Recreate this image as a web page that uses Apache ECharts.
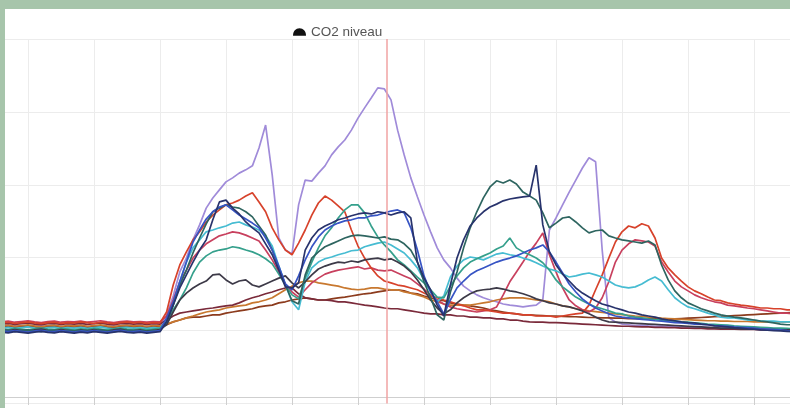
<!DOCTYPE html>
<html><head><meta charset="utf-8">
<script src="https://cdn.jsdelivr.net/npm/echarts/dist/echarts.min.js"></script>
<style>
html,body{margin:0;padding:0;background:#a7c5ab;width:790px;height:408px;overflow:hidden}
#wrap{position:absolute;left:5px;top:9px;width:785px;height:399px;background:#fff;overflow:hidden;filter:blur(0.5px)}
#chart{position:absolute;left:-43.3px;top:0;width:858.4px;height:399px}
</style></head>
<body><div id="wrap"><div id="chart"></div></div>
<script>
// sample times (hours), step 0.1 from 0.6 to 12.6
const times = Array.from({length:121},(_,i)=>Math.round((0.6+i*0.1)*10)/10);
const seriesNames = ['CO2 niveau'];
const markerTime = 6.44;

const lavender = [412,410,413,411,409,412,414,411,410,412,409,411,413,410,412,409,411,413,410,412,411,409,412,410,411,
443,495,561,599,649,690,736,764,786,808,819,832,841,852,901,964,827,654,621,610,745,813,810,832,852,882,904,923,950,983,1011,1038,1066,1063,1033,950,882,819,767,717,671,627,594,572,544,522,509,498,490,484,479,473,470,468,465,468,470,484,676,709,745,780,813,846,874,863,621,435,424,418,
416,414,415,413,412,413,411,410,411,409,410,408,409,407,408,407,406,407,405,406,405,404,405,404,403,404];
const red = [421,423,420,422,424,421,419,422,423,420,422,421,424,422,420,423,421,419,422,424,421,423,420,422,421,
451,525,580,616,649,671,698,717,731,745,750,758,769,778,753,726,682,649,621,608,640,676,717,750,769,758,742,726,676,632,599,572,550,536,531,525,522,517,512,503,495,490,484,479,473,468,462,457,457,454,451,448,448,446,443,443,440,440,440,437,440,443,446,448,470,512,553,599,643,671,687,682,693,687,654,599,572,553,536,520,509,501,492,484,482,476,473,470,468,465,462,462,460,460,457,457];
const crimson = [424,426,423,425,427,424,422,425,426,423,425,424,426,423,425,427,424,422,425,426,424,425,423,425,424,
440,484,534,566,599,621,638,649,660,665,671,668,662,654,646,621,594,561,528,506,492,512,531,544,555,561,566,569,572,575,569,572,566,564,566,558,550,542,528,514,498,484,473,465,460,457,454,451,454,457,465,498,534,561,588,616,640,668,608,561,517,484,468,457,451,462,490,534,588,621,638,649,646,643,632,588,561,536,520,509,498,490,484,479,476,470,468,465,462,460,457,454,451,448,448,446];
const navy = [396,394,397,395,393,396,398,395,394,397,395,393,396,394,397,395,393,396,398,395,394,396,393,395,397,
424,470,517,553,588,621,649,704,753,758,736,720,698,682,668,638,608,566,520,517,531,621,654,676,687,695,704,709,715,720,723,720,726,723,717,723,726,709,588,544,512,470,440,525,599,649,687,709,726,739,747,756,761,764,767,769,854,690,616,580,555,536,517,503,492,482,473,468,462,457,451,448,443,440,437,432,
429,427,424,422,421,418,416,413,412,410,408,407,405,404,402,401,400,399,398,397];
const darkTeal = [399,401,398,400,402,399,397,400,401,398,400,399,401,398,400,402,399,397,400,401,399,400,398,400,399,
424,470,525,566,613,654,693,726,736,745,739,736,726,712,687,662,621,572,525,482,473,553,599,616,630,638,646,654,660,662,660,657,654,657,651,649,638,621,588,534,490,443,429,506,561,627,682,726,764,794,811,805,813,802,780,769,758,723,682,695,709,712,698,682,668,674,676,660,654,649,646,643,640,646,635,580,539,509,490,476,468,460,454,448,443,440,437,435,432,429,426,424,421,418,416,416];
const cyan = [407,409,406,408,410,407,405,408,409,406,408,407,409,406,408,410,407,405,408,409,407,408,406,408,407,
429,470,534,588,627,649,671,676,682,687,695,698,690,684,676,660,632,577,525,479,457,534,572,588,597,602,608,613,619,621,630,635,640,643,635,624,613,594,572,539,506,479,495,547,577,594,602,599,594,602,610,613,608,605,599,594,586,577,569,564,555,547,550,555,558,553,547,536,525,520,517,520,528,539,547,536,512,490,476,465,460,454,448,443,437,435,435,432,429,429,426,426,426,424,424,424];
const teal = [405,403,406,404,402,405,407,404,403,406,404,402,405,403,406,404,402,405,407,404,403,405,402,404,406,
424,457,484,517,558,588,605,616,621,624,630,627,621,616,608,597,583,555,525,498,487,544,588,627,660,682,709,731,745,745,723,687,657,635,616,594,580,564,547,531,512,492,490,522,550,572,588,597,605,613,624,632,654,627,616,608,599,586,566,539,520,506,492,482,473,465,460,454,448,446,440,437,435,
432,430,429,427,426,424,423,421,420,418,417,416,415,413,412,411,410,409,408,407,407,406,405];
const charcoal = [402,400,403,401,399,402,404,401,400,403,401,399,402,400,403,401,399,402,404,401,400,402,399,401,403,
416,451,484,503,517,528,536,553,555,539,528,536,539,525,520,528,536,544,550,531,517,534,553,569,577,583,588,586,591,588,594,597,599,594,597,588,577,561,539,512,484,462,446,457,476,490,501,509,512,514,517,514,509,506,501,495,487,482,476,473,468,465,460,454,446,437,429,
424,423,422,421,420,419,418,417,416,415,414,413,412,411,410,409,408,407,407,406,405,405,404,404,403,403,402,402,402];
const brown = [410,412,409,411,413,410,408,411,412,409,411,410,412,409,411,413,410,408,411,412,410,411,409,411,410,
416,424,429,435,437,437,440,443,443,448,451,454,457,460,465,468,470,476,479,484,487,490,487,484,484,487,490,492,495,498,501,503,506,509,512,512,509,503,501,495,490,484,482,476,473,470,468,465,462,457,454,451,448,446,443,
443,442,441,440,440,439,438,438,437,436,436,435,435,434,434,433,433,432,432,432,431,431,432,433,434,435,436,437,438,439,440,441,442,443,444,445,446,447,448,449,450];
const orange = [413,415,412,414,416,413,411,414,415,412,414,413,415,412,414,416,413,411,414,415,413,414,412,414,413,
418,424,429,435,440,446,451,454,457,462,465,468,470,476,479,484,490,501,512,522,531,536,536,531,528,525,522,517,514,512,514,517,517,514,512,512,506,503,498,492,484,479,473,470,470,470,470,473,476,479,484,487,490,490,490,487,484,482,479,473,468,465,460,457,
454,452,450,448,446,444,442,440,439,437,436,434,433,432,431,430,429,428,427,427,426,426,425,425,425,424,424,424,424,424,424,424];
const maroon = [418,420,417,419,421,418,416,419,420,417,419,418,420,417,419,421,418,416,419,420,418,419,417,419,418,
429,440,448,451,454,457,460,462,465,468,470,476,484,490,495,501,506,512,517,517,501,490,487,484,484,482,479,479,476,473,470,468,465,462,460,460,457,454,451,448,446,446,443,443,440,440,437,437,435,435,432,432,429,429,426,
424,423,423,422,422,421,420,419,418,417,416,415,414,413,412,412,411,410,410,409,409,408,408,407,407,406,406,405,405,404,404,404,403,403,403,402,402,402,402,401,401];
const blue = [399,397,400,398,396,399,401,398,397,400,398,396,399,397,400,398,396,399,401,398,397,399,396,398,400,
435,479,534,588,643,676,706,726,739,745,731,717,706,695,682,654,621,577,528,512,550,594,630,657,676,687,695,701,704,709,709,715,717,723,728,731,723,682,621,550,506,479,446,484,517,536,553,564,572,580,588,594,599,605,613,621,627,635,616,588,558,528,506,487,473,462,454,446,440,
437,435,433,431,429,427,426,424,422,421,420,418,417,416,414,413,412,410,409,408,407,405,404,403,402,400,399];

const lines = [
  {data: lavender, color:'#a08bd9'},
  {data: brown, color:'#8c3b1d'},
  {data: orange, color:'#c8782f'},
  {data: maroon, color:'#7a2a3a'},
  {data: crimson, color:'#c8405e'},
  {data: red, color:'#d7422b'},
  {data: cyan, color:'#46bcd2'},
  {data: teal, color:'#35a08c'},
  {data: charcoal, color:'#3d3a48'},
  {data: darkTeal, color:'#2e6560'},
  {data: blue, color:'#3754c4'},
  {data: navy, color:'#28336c'}
];

const chart = echarts.init(document.getElementById('chart'), null, {renderer:'canvas'});
const series = lines.map((l, k) => ({
  name: seriesNames[0],
  type: 'line',
  showSymbol: false,
  symbol: 'none',
  data: times.map((t, i) => [t, l.data[i]]),
  lineStyle: {color: l.color, width: 1.7},
  itemStyle: {color: l.color},
  emphasis: {disabled: true},
  markLine: k === 0 ? {
    silent: true, symbol: 'none', label: {show: false},
    lineStyle: {color: '#f0a3a3', width: 1.5, type: 'solid'},
    data: [{xAxis: markerTime}]
  } : undefined
}));

chart.setOption({
  animation: false,
  legend: {
    data: seriesNames,
    left: 326, top: 11,
    icon: 'path://M1,9 C1,4 4,1 8,1 C12,1 15,4 15,9 Z',
    itemWidth: 13, itemHeight: 9, itemGap: 10,
    itemStyle: {color: '#111'},
    textStyle: {color: '#555', fontSize: 13.5, fontFamily: 'Arial, Liberation Sans, sans-serif'}
  },
  grid: {left: 0, right: 0, top: 30, bottom: 4.5},
  xAxis: {
    type: 'value', min: 0, max: 13, interval: 1, offset: -6.5,
    axisLine: {lineStyle: {color: '#cfcfcf'}},
    axisTick: {show: true, length: 8, lineStyle: {color: '#cfcfcf'}},
    axisLabel: {show: false},
    splitLine: {show: true, lineStyle: {color: '#ececec'}}
  },
  yAxis: {
    type: 'value', min: 200, max: 1200, interval: 200,
    axisLine: {show: false}, axisTick: {show: false}, axisLabel: {show: false},
    splitLine: {show: true, lineStyle: {color: '#ececec'}}
  },
  series: series
});
</script>
</body></html>
